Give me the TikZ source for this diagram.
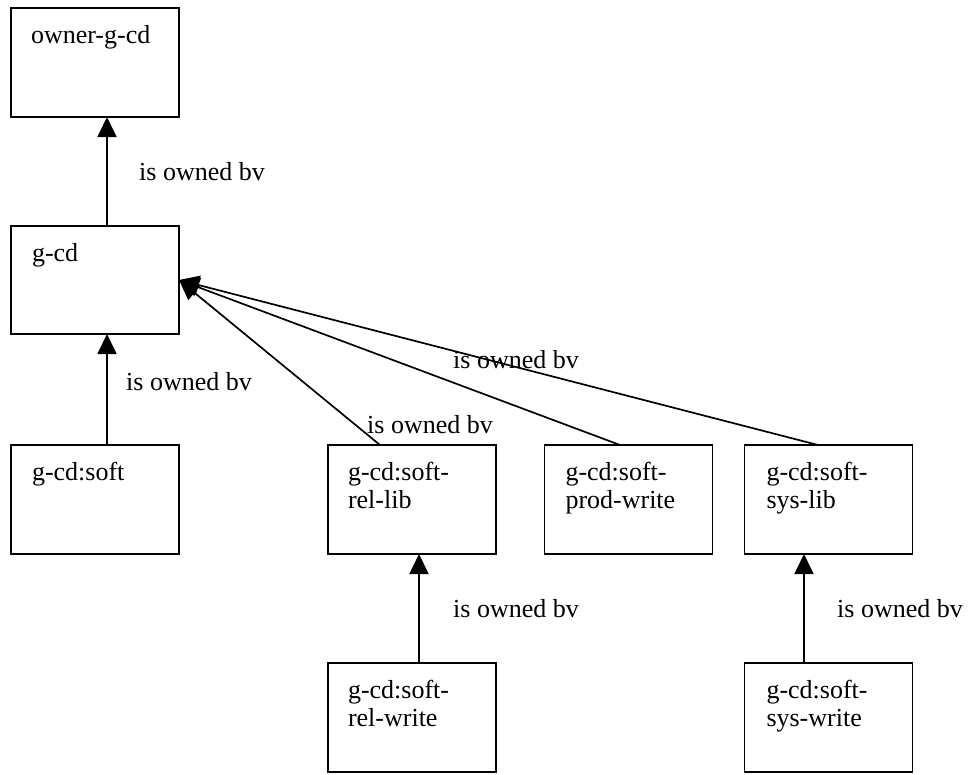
\documentclass[tikz,border=0pt]{standalone}
\usepackage{fontspec}
\setmainfont{Liberation Serif}
\usetikzlibrary{arrows.meta,calc}
\begin{document}
\begin{tikzpicture}[x=1pt,y=-1pt,
  box/.style={draw,line width=1.9pt,minimum width=168pt,minimum height=109pt,inner sep=0pt,outer sep=0pt},
  txt/.style={anchor=base west,inner sep=0pt,outer sep=0pt,align=left,font=\fontsize{26}{28}\selectfont},
  lbl/.style={anchor=base west,inner sep=0pt,font=\fontsize{26}{28}\selectfont},
  own/.style={line width=1.7pt,-{Triangle[length=20pt,width=19pt]}}]
\useasboundingbox (0,0) rectangle (971,774);
% boxes
\node[box] (owner)  at (95,62.5) {};
\node[box,minimum height=108pt] (gcd) at (95,280) {};
\node[box] (soft)   at (95,499.5) {};
\node[box] (rellib) at (412,499.5) {};
\node[box] (prodw)  at (628.5,499.5) {};
\node[box] (syslib) at (828.5,499.5) {};
\node[box] (relw)   at (412,717.5) {};
\node[box] (sysw)   at (828.5,717.5) {};
% box texts (base anchor of a two-line node is the base of its last line)
\node[txt] (towner)  at ($(owner.north west)+(20,35)$) {owner-g-cd};
\node[txt] (tgcd)    at ($(gcd.north west)+(21,35)$) {g-cd};
\node[txt] (tsoft)   at ($(soft.north west)+(21,35)$) {g-cd:soft};
\node[txt] (trellib) at ($(rellib.north west)+(20,63)$) {g-cd:soft-\\rel-lib};
\node[txt] (tprodw)  at ($(prodw.north west)+(21,63)$) {g-cd:soft-\\prod-write};
\node[txt] (tsyslib) at ($(syslib.north west)+(22,63)$) {g-cd:soft-\\sys-lib};
\node[txt] (trelw)   at ($(relw.north west)+(20,63)$) {g-cd:soft-\\rel-write};
\node[txt] (tsysw)   at ($(sysw.north west)+(22,63)$) {g-cd:soft-\\sys-write};
% connectors
\draw[own] ($(gcd.north)+(12,0)$) -- ($(owner.south)+(12,0)$);
\draw[own] ($(soft.north)+(12,0)$) -- ($(gcd.south)+(12,0)$);
\draw[own] ($(rellib.north)+(-32,0)$) -- (gcd.east);
\draw[own] ($(prodw.north)+(-8.5,0)$) -- (gcd.east);
\draw[own] ($(syslib.north)+(-10.5,0)$) -- (gcd.east);
\draw[own] ($(relw.north)+(7,0)$) -- ($(rellib.south)+(7,0)$);
\draw[own] ($(sysw.north)+(-24.5,0)$) -- ($(syslib.south)+(-24.5,0)$);
% labels
\node[lbl] (l1) at (139,180) {is owned bv};
\node[lbl] (l2) at (126,390) {is owned bv};
\node[lbl] (l3) at (367,433) {is owned bv};
\node[lbl] (l4) at (453,368) {is owned bv};
\node[lbl] (l5) at (453,617) {is owned bv};
\node[lbl] (l6) at (837,617) {is owned bv};
\end{tikzpicture}
\end{document}
